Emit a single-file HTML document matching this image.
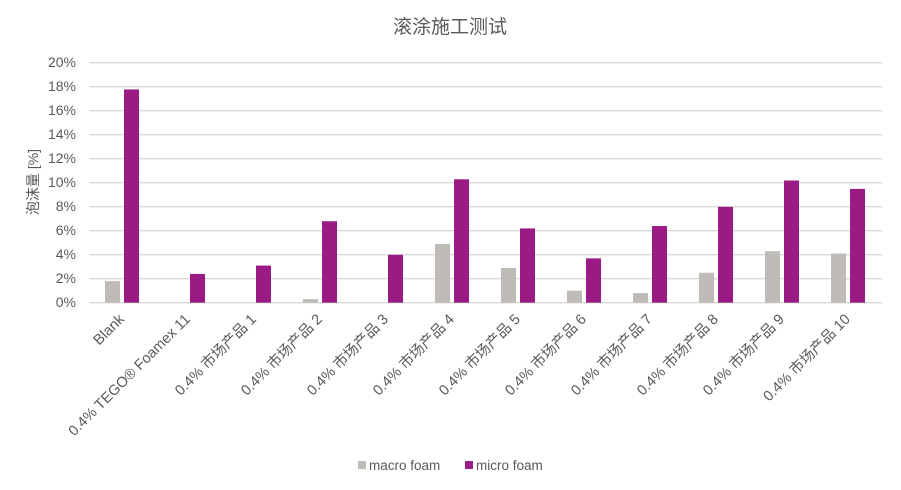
<!DOCTYPE html>
<html><head><meta charset="utf-8"><style>
body{margin:0;background:#fff}
svg{display:block;font-family:"Liberation Sans","Noto Sans CJK SC",sans-serif}
</style></head><body>
<svg width="901" height="490" viewBox="0 0 901 490" xmlns="http://www.w3.org/2000/svg">
<rect width="901" height="490" fill="#fff"/>
<text x="450" y="33" text-anchor="middle" font-size="19" fill="#595959">滚涂施工测试</text>
<g stroke="#d9d9d9" stroke-width="1.3">
<line x1="89" x2="882" y1="62.7" y2="62.7"/><line x1="89" x2="882" y1="86.7" y2="86.7"/>
<line x1="89" x2="882" y1="110.7" y2="110.7"/><line x1="89" x2="882" y1="134.7" y2="134.7"/>
<line x1="89" x2="882" y1="158.7" y2="158.7"/><line x1="89" x2="882" y1="182.7" y2="182.7"/>
<line x1="89" x2="882" y1="206.7" y2="206.7"/><line x1="89" x2="882" y1="230.7" y2="230.7"/>
<line x1="89" x2="882" y1="254.7" y2="254.7"/><line x1="89" x2="882" y1="278.7" y2="278.7"/>
<line x1="89" x2="882" y1="302.7" y2="302.7"/>
</g>
<g font-size="14" fill="#595959" text-anchor="end">
<text x="76" y="67">20%</text><text x="76" y="91">18%</text><text x="76" y="115">16%</text>
<text x="76" y="139">14%</text><text x="76" y="163">12%</text><text x="76" y="187">10%</text>
<text x="76" y="211">8%</text><text x="76" y="235">6%</text><text x="76" y="259">4%</text>
<text x="76" y="283">2%</text><text x="76" y="307">0%</text>
</g>
<text transform="translate(38,182) rotate(-90)" text-anchor="middle" font-size="14" fill="#595959">泡沫量 [%]</text>
<g id="bars"></g>
<g id="labels" font-size="14.6" fill="#595959"></g>
<rect x="358" y="461" width="8" height="8" fill="#bfbbb6"/>
<text x="369" y="470" font-size="13.5" fill="#595959">macro foam</text>
<rect x="465" y="461" width="8" height="8" fill="#9b1b85"/>
<text x="476" y="470" font-size="13.5" fill="#595959">micro foam</text>
<script>
var mac=[1.8,0,0,0.3,0,4.9,2.9,1.0,0.8,2.5,4.3,4.1];
var mic=[17.8,2.4,3.1,6.8,4.0,10.3,6.2,3.7,6.4,8.0,10.2,9.5];
var lab=["Blank","0.4% TEGO® Foamex 11","0.4% 市场产品 1","0.4% 市场产品 2","0.4% 市场产品 3","0.4% 市场产品 4","0.4% 市场产品 5","0.4% 市场产品 6","0.4% 市场产品 7","0.4% 市场产品 8","0.4% 市场产品 9","0.4% 市场产品 10"];
var ns="http://www.w3.org/2000/svg",b=document.getElementById("bars"),l=document.getElementById("labels");
for(var i=0;i<12;i++){
 var c=89+66*i+33;
 [[mac[i],c-17,"#bfbbb6"],[mic[i],c+2,"#9b1b85"]].forEach(function(d){
  if(d[0]<=0)return;var r=document.createElementNS(ns,"rect");var h=d[0]*11.98;
  r.setAttribute("x",d[1]);r.setAttribute("width",15);r.setAttribute("y",302.7-h);r.setAttribute("height",h);r.setAttribute("fill",d[2]);b.appendChild(r);});
 var t=document.createElementNS(ns,"text");t.setAttribute("text-anchor","end");
 t.setAttribute("transform","translate("+(c+3)+",320) rotate(-45)");t.textContent=lab[i];l.appendChild(t);
}
</script>
</svg>
</body></html>
